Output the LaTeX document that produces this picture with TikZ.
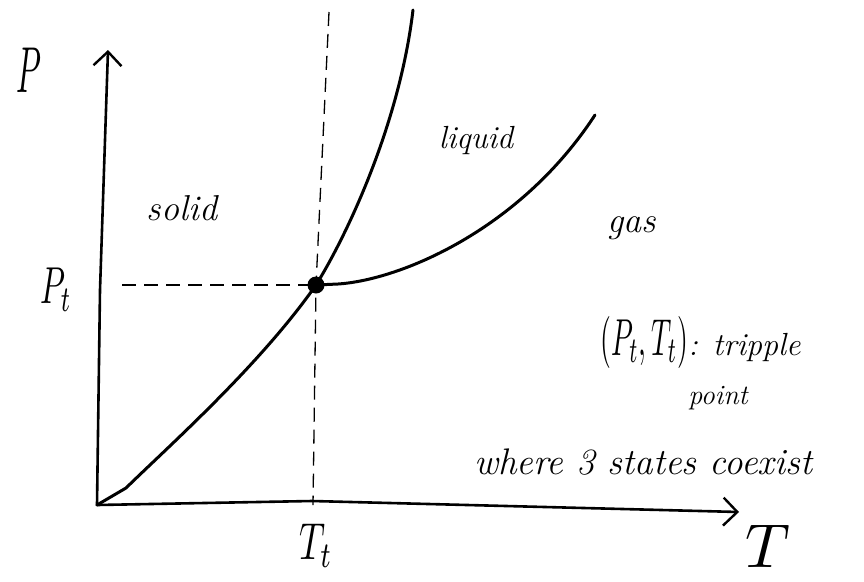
\documentclass[tikz,border=0pt]{standalone}
\usetikzlibrary{arrows.meta}
\begin{document}
\begin{tikzpicture}[x=1pt,y=-1pt,
  axis/.style={line width=2.6pt,line cap=round,-{Straight Barb[length=14pt,width=28pt,line width=2.4pt]}},
  curve/.style={line width=3pt,line cap=round},
  guide/.style={line width=1.3pt,dash pattern=on 14pt off 8pt},
  lbl/.style={inner sep=0pt},
]
\useasboundingbox (0,0) rectangle (864,581);
% key points
\coordinate (O) at (97,505);
\coordinate (ytip) at (108,50);
\coordinate (xtip) at (739,512);
\coordinate (tp) at (316,285);
\coordinate (smtop) at (413,10);
\coordinate (lgend) at (595,115);
\coordinate (vtop) at (329,12);
\coordinate (vbot) at (313,505);
\coordinate (hleft) at (122,285);
% axes
\draw[axis] (O) -- (100,290) -- (ytip);
\draw[axis] (O) -- (312,501) -- (xtip);
% guides
\draw[guide] (hleft) -- (tp);
\draw[guide] (vtop) -- (tp) -- (vbot);
% coexistence curves
\draw[curve] (O) -- (126,488) .. controls (170,445) and (260,365) .. (tp)
   .. controls (350,230) and (400,120) .. (smtop);
\draw[curve] (tp) -- (338,284) .. controls (400,280) and (520,230) .. (lgend);
\fill (tp) circle (8.5pt);
% labels
\node[lbl] (P) at (29,70) {\scalebox{3.2}[6.5]{$P$}};
\node[lbl] (Pt) at (56,290) {\scalebox{3.2}[5.2]{$P_t$}};
\node[lbl] (Tt) at (316,546) {\scalebox{3.6}[5.2]{$T_t$}};
\node[lbl] (T) at (768,546) {\scalebox{6.2}[6.2]{$T$}};
\node[lbl,font=\fontsize{36}{36}\itshape\selectfont] (solid) at (182,208) {solid};
\node[lbl,font=\fontsize{32}{32}\itshape\selectfont] (liquid) at (476,140) {liquid};
\node[lbl,font=\fontsize{36}{36}\itshape\selectfont] (gas) at (632,228) {gas};
\node[lbl,anchor=west] (tripple) at (600,342) {\scalebox{2.8}[5.2]{$(P_t,T_t)$}\fontsize{32}{32}\itshape\selectfont: tripple};
\node[lbl,font=\fontsize{28}{28}\itshape\selectfont] (point) at (718,398) {point};
\node[lbl,anchor=west,font=\fontsize{37}{37}\itshape\selectfont] (where) at (474,462) {where 3 states coexist};
\end{tikzpicture}
\end{document}
